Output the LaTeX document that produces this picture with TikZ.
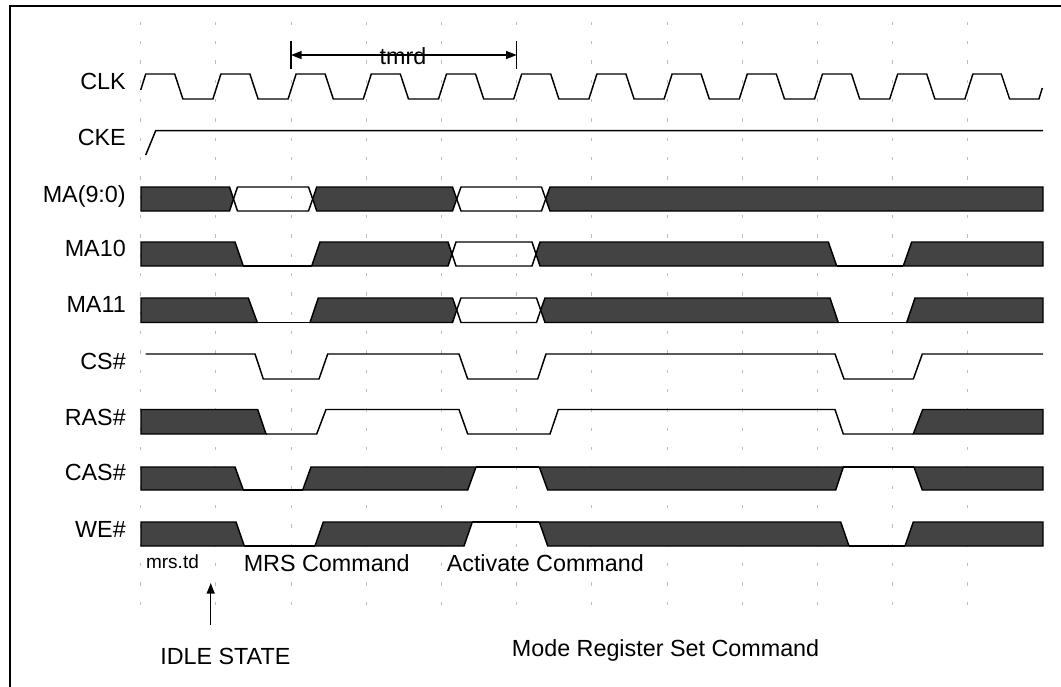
\documentclass[tikz,border=0pt]{standalone}
\usepackage{fontspec}
\setmainfont{Liberation Sans}
\usetikzlibrary{arrows.meta}
\definecolor{busfill}{HTML}{434343}
\definecolor{guidegray}{HTML}{BEBEBE}

\begin{document}
\begin{tikzpicture}[
    x=0.75pt,y=-0.75pt,
    font=\fontsize{17.5}{20}\selectfont,
    sig/.style={line width=1.1pt,line join=miter},
    bus/.style={sig,fill=busfill},
    guide/.style={guidegray,line width=0.75pt,dash pattern=on 2.6pt off 11.9pt},
    lbl/.style={anchor=base east,inner sep=0pt},
    note/.style={anchor=base west,inner sep=0pt},
    tip/.style={-{Triangle[length=8pt,width=6pt]}},
    arrow/.style={line width=1.1pt,tip},
    frame/.style={line width=1.9pt}
  ]
    \useasboundingbox (0,0) rectangle (1061,686);
    \clip (0,0) rectangle (1061,686);
    \draw[frame] (10,700) -- (10,6) -- (1070,6);
    \foreach \i in {0,...,11}
      \draw[guide] ({140.7+75.2*\i},21.5) -- ({140.7+75.2*\i},608);

    \node[lbl] (clk)  at (126,89)  {CLK};
    \node[lbl] (cke)  at (126,145) {CKE};
    \node[lbl] (ma)   at (126,202) {MA(9:0)};
    \node[lbl] (ma10) at (126,256) {MA10};
    \node[lbl] (ma11) at (126,312) {MA11};
    \node[lbl] (cs)   at (126,369) {CS\#};
    \node[lbl] (ras)  at (126,425) {RAS\#};
    \node[lbl] (cas)  at (126,480) {CAS\#};
    \node[lbl] (we)   at (126,537) {WE\#};

    \draw[sig] (140.7,90) -- (145.7,74)
      \foreach \i in {1,...,11} { -- ++(29,0) -- ++(8.2,25) -- ++(30,0) -- ++(8,-25) }
      -- ++(28.4,0) -- ++(8.3,25) -- ++(29.3,0) -- ++(3.4,-11);
    \draw[sig] (145.7,155) -- (155.7,130.7) -- (1043,130.7);

    \draw[bus] (141,187) -- (229.5,187) -- (233.5,199) -- (229.5,211) -- (141,211) -- cycle;
    \draw[sig] (233.5,199) -- (237.5,187) -- (308.5,187) -- (312.7,199) -- (308.5,211) -- (237.5,211) -- cycle;
    \draw[bus] (312.7,199) -- (316.7,187) -- (452.5,187) -- (456.7,199) -- (452.5,211) -- (316.7,211) -- cycle;
    \draw[sig] (456.7,199) -- (461,187) -- (541.5,187) -- (545.7,199) -- (541.5,211) -- (461,211) -- cycle;
    \draw[bus] (545.7,199) -- (550,187) -- (1043,187) -- (1043,211) -- (550,211) -- cycle;

    \draw[bus] (141,242) -- (235,242) -- (243.3,266) -- (141,266) -- cycle;
    \draw[sig] (243.3,266) -- (311.7,266);
    \draw[bus] (311.7,266) -- (320,242) -- (448,242) -- (452,254) -- (448,266) -- cycle;
    \draw[sig] (452,254) -- (456,242) -- (532,242) -- (536,254) -- (532,266) -- (456,266) -- cycle;
    \draw[bus] (536,254) -- (540,242) -- (828.3,242) -- (836.7,266) -- (540,266) -- cycle;
    \draw[sig] (836.7,266) -- (903.3,266);
    \draw[bus] (903.3,266) -- (911.7,242) -- (1043,242) -- (1043,266) -- cycle;

    \draw[bus] (141,298) -- (248.3,298) -- (257.3,322.5) -- (141,322.5) -- cycle;
    \draw[sig] (257.3,322.5) -- (310,322.5);
    \draw[bus] (310,322.5) -- (318.3,298) -- (452.5,298) -- (456.7,310) -- (452.5,322.5) -- cycle;
    \draw[sig] (456.7,310) -- (461,298) -- (536.5,298) -- (540.7,310) -- (536.5,322.5) -- (461,322.5) -- cycle;
    \draw[bus] (540.7,310) -- (545,298) -- (830,298) -- (838.3,322.5) -- (545,322.5) -- cycle;
    \draw[sig] (838.3,322.5) -- (906.7,322.5);
    \draw[bus] (906.7,322.5) -- (915,298) -- (1043,298) -- (1043,322.5) -- cycle;

    \draw[sig] (145.7,354) -- (255,354) -- (263.3,379) -- (319,379) -- (327.7,354) -- (459,354)
      -- (467.7,379) -- (537.7,379) -- (546,354) -- (835,354) -- (844,379) -- (913.3,379)
      -- (922.3,354) -- (1043,354);

    \draw[bus] (141,409.5) -- (257.7,409.5) -- (266,434) -- (141,434) -- cycle;
    \draw[sig] (266,434) -- (316.7,434) -- (326,409.5) -- (459,409.5) -- (467.7,434) -- (550,434)
      -- (558.3,409.5) -- (835,409.5) -- (843.3,434) -- (913.3,434);
    \draw[bus] (913.3,434) -- (922.7,409.5) -- (1043,409.5) -- (1043,434) -- cycle;

    \draw[bus] (141,467) -- (235,467) -- (243.3,490) -- (141,490) -- cycle;
    \draw[sig] (243.3,490) -- (302.7,490);
    \draw[bus] (302.7,490) -- (311,467) -- (476,467) -- (467.7,490) -- cycle;
    \draw[sig] (476,467) -- (539.3,467);
    \draw[bus] (539.3,467) -- (843.3,467) -- (835.7,490) -- (547.7,490) -- cycle;
    \draw[sig] (843.3,467) -- (914,467);
    \draw[bus] (914,467) -- (1043,467) -- (1043,490) -- (922.3,490) -- cycle;

    \draw[bus] (141,522) -- (236,522) -- (244.3,546) -- (141,546) -- cycle;
    \draw[sig] (244.3,546) -- (315,546);
    \draw[bus] (315,546) -- (323.3,522) -- (472.3,522) -- (464,546) -- cycle;
    \draw[sig] (472.3,522) -- (539.3,522);
    \draw[bus] (539.3,522) -- (840.7,522) -- (849,546) -- (547.7,546) -- cycle;
    \draw[sig] (849,546) -- (905,546);
    \draw[bus] (905,546) -- (913.3,522) -- (1043,522) -- (1043,546) -- cycle;

    \coordinate (tm-l) at (291,55);
    \coordinate (tm-r) at (516.7,55);
    \draw[sig] (291,41) -- (291,69);
    \draw[sig] (516.7,41) -- (516.7,69);
    \draw[arrow,{Triangle[length=8pt,width=6pt]}-{Triangle[length=8pt,width=6pt]}] (tm-l) -- (tm-r);
    \node[anchor=base,inner sep=0pt] (tmrd) at (403,64) {tmrd};

    \node[note,font=\fontsize{14.25}{16}\selectfont] (mrstd) at (145.8,568) {mrs.td};
    \node[note] (mrscmd) at (243.5,571.5) {MRS Command};
    \node[note] (actcmd) at (446.5,571.5) {Activate Command};
    \node[note] (idle) at (160,664) {IDLE STATE};
    \node[note] (modecmd) at (511.6,656) {Mode Register Set Command};
    \coordinate (idle-tip) at (210.7,583);
    \coordinate (idle-foot) at (210.7,625);
    \draw[arrow] (idle-foot) -- (idle-tip);
  \end{tikzpicture}
\end{document}
